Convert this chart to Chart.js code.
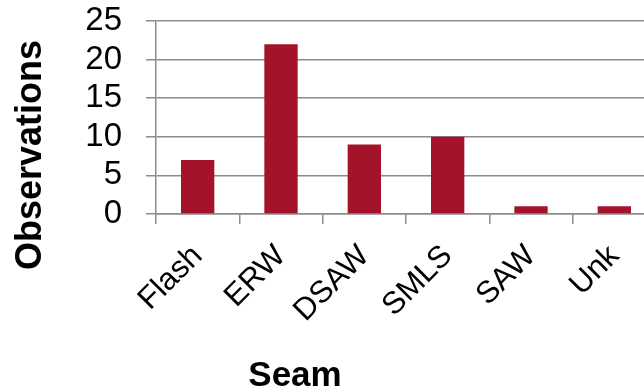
<!DOCTYPE html>
<html lang="en">
<head>
  <meta charset="UTF-8">
  <title>Seam Observations</title>
  <style>
    body {
      margin: 0;
      background: #ffffff;
      overflow: hidden;
    }

    .chart-box {
      position: absolute;
      left: 0;
      top: 0;
      width: 660px;
      height: 392px;
    }
  </style>
</head>
<body>

  <div class="chart-box">
    <canvas id="seamChart"></canvas>
  </div>

  <script src="https://cdn.jsdelivr.net/npm/chart.js"></script>
  <script>
    const seams = ['Flash', 'ERW', 'DSAW', 'SMLS', 'SAW', 'Unk'];
    const observations = [7, 22, 9, 10, 1, 1];
    const yTicks = [0, 5, 10, 15, 20, 25];

    const FONT = '"Liberation Sans", Arial, sans-serif';
    const GRID = '#8c8c8c';
    const BAR = '#a5132b';

    // axis titles sit where the original layout put them, not centred on the plot
    const axisTitles = {
      id: 'axisTitles',
      afterDraw(chart) {
        const ctx = chart.ctx;
        ctx.save();
        ctx.fillStyle = '#000';
        ctx.font = 'bold 35px ' + FONT;
        ctx.textAlign = 'center';
        ctx.textBaseline = 'middle';

        ctx.save();
        ctx.translate(31, 155);
        ctx.rotate(-Math.PI / 2);
        ctx.font = 'bold 36px ' + FONT;
        ctx.fillText('Observations', 0, 0);
        ctx.restore();

        ctx.fillText('Seam', 295, 376);
        ctx.restore();
      }
    };

    const ctx = document.getElementById('seamChart').getContext('2d');
    const seamChart = new Chart(ctx, {
      type: 'bar',
      data: {
        labels: seams,
        datasets: [{
          label: 'Observations',
          data: observations,
          backgroundColor: BAR,
          borderWidth: 0,
          categoryPercentage: 1.0,
          barPercentage: 0.4
        }]
      },
      options: {
        responsive: true,
        maintainAspectRatio: false,
        animation: false,
        layout: {
          padding: { top: 0, right: 4, bottom: 0, left: 0 }
        },
        plugins: {
          legend: { display: false },
          tooltip: { enabled: false }
        },
        scales: {
          x: {
            grid: {
              display: true,
              drawOnChartArea: false,
              drawTicks: true,
              tickLength: 10,
              offset: true,
              color: GRID,
              lineWidth: 1.5
            },
            border: { display: true, color: GRID, width: 1.5 },
            ticks: {
              color: '#000',
              font: { family: FONT, size: 31 },
              minRotation: 45,
              maxRotation: 45,
              autoSkip: false,
              padding: 14
            },
            afterFit(scale) {
              scale.height = 178;
            }
          },
          y: {
            min: 0,
            max: 25,
            afterBuildTicks(scale) {
              scale.ticks = yTicks.map(v => ({ value: v }));
            },
            grid: {
              color: GRID,
              lineWidth: 1.5,
              tickLength: 10
            },
            border: { display: true, color: GRID, width: 1.5 },
            ticks: {
              color: '#000',
              font: { family: FONT, size: 33 },
              padding: 24,
              autoSkip: false
            },
            afterFit(scale) {
              scale.width = 156;
              // keep the plot top close to the 25 line instead of label + padding
              scale.paddingTop = 21;
              scale.paddingBottom = 0;
            }
          }
        }
      },
      plugins: [axisTitles]
    });
  </script>

</body>
</html>
